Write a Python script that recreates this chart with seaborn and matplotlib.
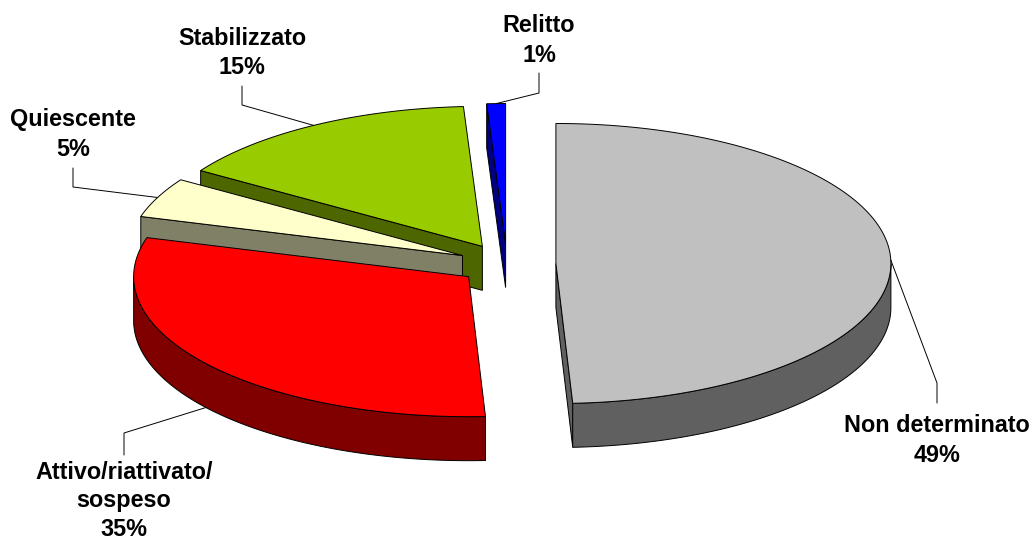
import numpy as np
import matplotlib.pyplot as plt
from matplotlib.patches import Polygon
import seaborn as sns

# slice data (angles read from the drawn wedges, labels as printed on the chart)
categories = ['Non determinato', 'Attivo/riattivato/\nsospeso', 'Quiescente', 'Stabilizzato', 'Relitto']
shares = [49.2, 30.3, 4.6, 15.0, 0.9]
pct_labels = ['49%', '35%', '5%', '15%', '1%']
top_colors = ['#C0C0C0', '#FF0000', '#FFFFCC', '#99CC00', '#0000FF']
side_colors = ['#606060', '#800000', '#808066', '#4D6600', '#000080']

sns.set_style('white')
plt.rcParams['font.family'] = ['Liberation Sans', 'DejaVu Sans']

fig = plt.figure(figsize=(10.32, 5.43), dpi=100)
ax = fig.add_axes([0, 0, 1, 1])
ax.set_xlim(0, 1032)
ax.set_ylim(543, 0)
ax.axis('off')

# 3d pie layout (pixels)
cx, cy = 507, 264
rx, ry = 335, 140
depth = 44
explode = 0.146

# label layout
label_x = [937, 124, 73, 242, 539]
elbow_y = [383, 433, 187, 105, 93]
end_y = [403, 455, 168, 86, 73]
first_base = [432, 479, 126, 45, 32]
line_steps = [30, 28.5, 30, 29.5, 30]

bounds = np.concatenate([[0], np.cumsum(shares)]) / sum(shares) * 360
mids = (bounds[:-1] + bounds[1:]) / 2


def rim(theta, ox, oy):
    t = np.radians(theta)
    return cx + ox + rx * np.sin(t), cy + oy - ry * np.cos(t)


style = dict(edgecolor='black', linewidth=0.7)

# draw back slices first
order = np.argsort(-np.cos(np.radians(mids)))
for i in order:
    s, e, m = bounds[i], bounds[i + 1], mids[i]
    ox = explode * rx * np.sin(np.radians(m))
    oy = -explode * ry * np.cos(np.radians(m))
    apex = (cx + ox, cy + oy)

    # cut faces facing the viewer
    for th, nrm in [(s, s - 90), (e, e + 90)]:
        if np.cos(np.radians(nrm)) < -1e-3:
            px, py = rim(th, ox, oy)
            pts = [apex, (px, py), (px, py + depth), (apex[0], apex[1] + depth)]
            ax.add_patch(Polygon(pts, closed=True, facecolor=side_colors[i], **style))

    # outer wall on the front half
    lo, hi = max(s, 90), min(e, 270)
    if hi > lo:
        th = np.linspace(lo, hi, 120)
        xs, ys = rim(th, ox, oy)
        pts = list(zip(xs, ys)) + list(zip(xs[::-1], ys[::-1] + depth))
        ax.add_patch(Polygon(pts, closed=True, facecolor=side_colors[i], **style))

    # top face
    th = np.linspace(s, e, 200)
    xs, ys = rim(th, ox, oy)
    pts = [apex] + list(zip(xs, ys))
    ax.add_patch(Polygon(pts, closed=True, facecolor=top_colors[i], **style))

# leader lines and labels
for i in range(len(categories)):
    m = mids[i]
    ox = explode * rx * np.sin(np.radians(m))
    oy = -explode * ry * np.cos(np.radians(m))
    ax_, ay_ = rim(m, ox, oy)
    if np.cos(np.radians(m)) < 0:
        ay_ += depth
    ax.plot([ax_, label_x[i], label_x[i]], [ay_, elbow_y[i], end_y[i]],
            color='black', linewidth=0.7)
    lines = categories[i].split('\n') + [pct_labels[i]]
    for k, txt in enumerate(lines):
        ax.text(label_x[i], first_base[i] + k * line_steps[i], txt, ha='center',
                va='baseline', fontsize=16.8, fontweight='bold', color='black')

fig.savefig('out.png', dpi=100)
